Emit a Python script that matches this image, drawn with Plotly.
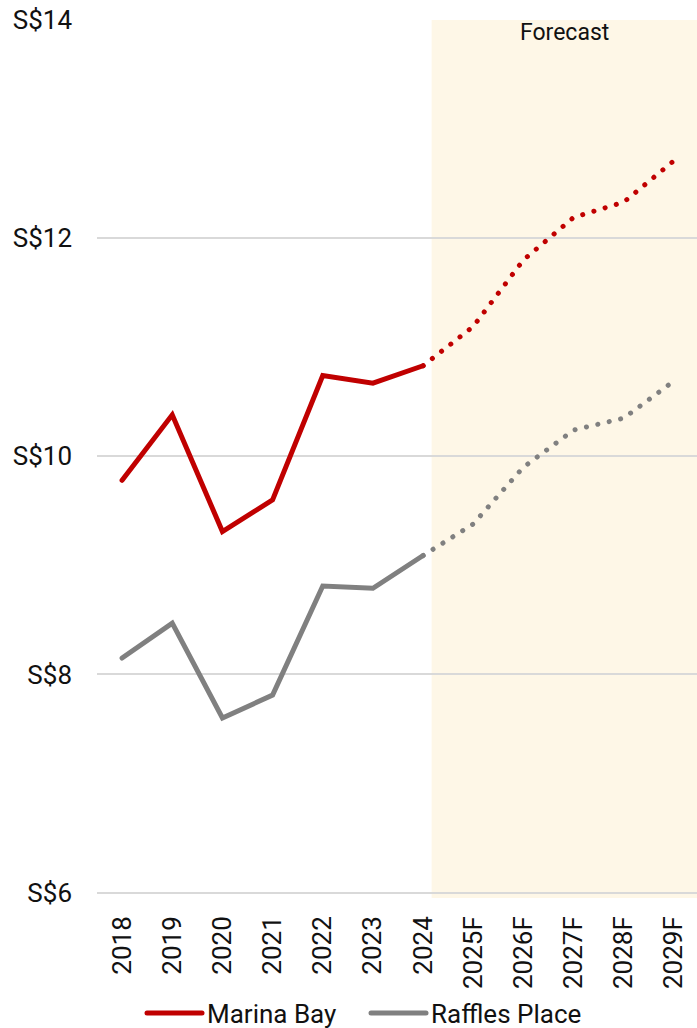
import plotly.graph_objects as go

# office rents (S$ psf pm), actuals to 2024 then forecast
years = ['2018', '2019', '2020', '2021', '2022', '2023', '2024',
         '2025F', '2026F', '2027F', '2028F', '2029F']
marina_bay = [9.78, 10.38, 9.31, 9.60, 10.74, 10.67, 10.83,
              11.19, 11.80, 12.19, 12.33, 12.71]
raffles_place = [8.15, 8.47, 7.60, 7.81, 8.81, 8.79, 9.09,
                 9.38, 9.90, 10.24, 10.35, 10.69]
n_actual = 7  # 2018-2024
y_ticks = [6, 8, 10, 12, 14]
y_labels = ['S$' + str(v) for v in y_ticks]

RED = '#C00000'
GREY = '#808080'
FONT = 'Roboto'

x_range = [-0.5, 11.46]
y_range = [5.95, 14.0]

fig = go.Figure()

for name, vals, col in [('Marina Bay', marina_bay, RED),
                        ('Raffles Place', raffles_place, GREY)]:
    fig.add_trace(go.Scatter(
        x=years[:n_actual], y=vals[:n_actual], name=name,
        mode='lines', line=dict(color=col, width=5),
    ))
    fig.add_trace(go.Scatter(
        x=years[n_actual - 1:], y=vals[n_actual - 1:], name=name,
        mode='lines', line=dict(color=col, width=5, dash='0.1px,11.6px'),
        showlegend=False,
    ))

# forecast band
fig.add_shape(
    type='rect', xref='x', yref='y',
    x0=n_actual - 1 + 0.17, x1=x_range[1], y0=y_range[0], y1=y_range[1],
    fillcolor='#FEF7E7', line_width=0, layer='below',
)
fig.add_annotation(
    x=(n_actual - 1 + 0.17 + x_range[1]) / 2, y=y_range[1], xref='x', yref='y',
    text='Forecast', showarrow=False, yanchor='top', yshift=3,
    font=dict(family=FONT, size=23, color='#111111'),
)

fig.update_xaxes(
    type='category', range=x_range, tickangle=-90, automargin=False,
    showgrid=False, showline=False, zeroline=False, ticks='',
    tickfont=dict(family=FONT, size=26, color='#111111'),
    ticklabelstandoff=12,
)
fig.update_yaxes(
    range=y_range, tickmode='array', tickvals=y_ticks, ticktext=y_labels,
    automargin=False,
    showgrid=True, gridcolor='#D9D9D9', gridwidth=1.5,
    zeroline=False, showline=False, ticks='',
    tickfont=dict(family=FONT, size=26, color='#111111'),
    ticklabelstandoff=24,
)
fig.update_layout(
    width=697, height=1028,
    margin=dict(l=97, r=0, t=20, b=130),
    plot_bgcolor='white', paper_bgcolor='white',
    showlegend=True,
    legend=dict(
        orientation='h', x=0.075, xanchor='left',
        yref='container', y=0.0146, yanchor='middle',
        font=dict(family=FONT, size=26, color='#111111'),
        itemwidth=55, entrywidth=154, bgcolor='rgba(0,0,0,0)',
    ),
)

# page without body margin, round line caps for the dotted forecast
post = """
document.body.style.margin = '0';
var gd = document.getElementById('{plot_id}');
function rc() {
  gd.querySelectorAll('path.js-line').forEach(function (p) {
    p.style.strokeLinecap = 'round';
  });
}
rc();
if (gd.on) { gd.on('plotly_afterplot', rc); }
"""

fig.write_html("out.html", post_script=post,
               config={'displayModeBar': False})
